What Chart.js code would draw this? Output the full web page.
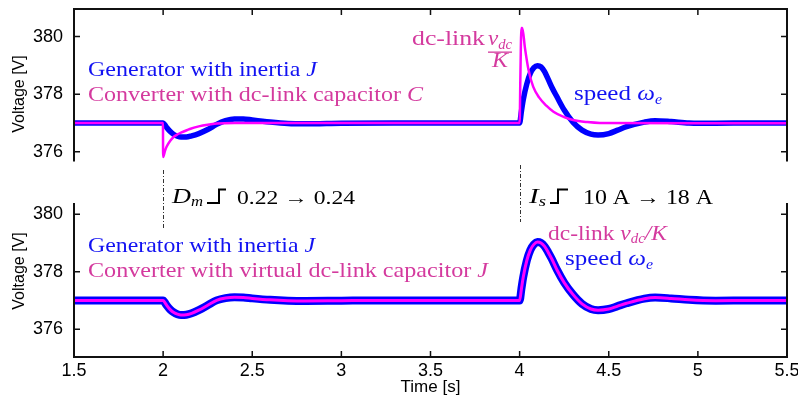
<!DOCTYPE html>
<html>
<head>
<meta charset="utf-8">
<script src="https://cdn.jsdelivr.net/npm/chart.js@4.4.0/dist/chart.umd.min.js"></script>
<style>
    html, body { margin: 0; padding: 0; background: #fff; }
    #wrap { position: relative; width: 798px; height: 398px; }
    #wrap canvas { position: absolute; left: 0; top: 0; }
</style>
</head>
<body>
<div id="wrap">
    <canvas id="chartBottom" width="798" height="398"></canvas>
    <canvas id="chartTop" width="798" height="398"></canvas>
</div>
<script>
// Axes
const xTicks = [1.5, 2, 2.5, 3, 3.5, 4, 4.5, 5, 5.5];
const yTicks = [376, 378, 380];

// Upper plot: generator speed (blue)
const tSpeedTop = [1.5, 2.0, 2.01, 2.02, 2.04, 2.06, 2.08, 2.1, 2.13, 2.16, 2.2, 2.25, 2.3, 2.35, 2.4, 2.45, 2.5, 2.6, 2.7, 2.8, 3.0, 3.3, 3.6,
    4.0, 4.01, 4.02, 4.04, 4.06, 4.08, 4.1, 4.12, 4.14, 4.16, 4.18, 4.21, 4.25, 4.3, 4.35, 4.4, 4.44, 4.5, 4.55, 4.6, 4.7, 4.76, 4.85, 4.95, 5.1, 5.3, 5.5];
const speedTop = [377.0, 377.0, 376.93, 376.84, 376.7, 376.6, 376.54, 376.51, 376.51, 376.55, 376.63, 376.77, 376.95, 377.08, 377.14, 377.14, 377.1, 377.03, 376.98, 376.97, 376.99, 377.0, 377.0,
    377.0, 377.4, 377.8, 378.35, 378.72, 378.92, 378.99, 378.95, 378.78, 378.52, 378.25, 377.9, 377.45, 377.02, 376.75, 376.61, 376.58, 376.63, 376.75, 376.87, 377.03, 377.08, 377.05, 377.0, 376.99, 377.0, 377.0];

// Upper plot: dc-link voltage / K (magenta)
const tDcTop = [1.5, 1.999, 2.0, 2.01, 2.02, 2.04, 2.06, 2.08, 2.1, 2.15, 2.2, 2.25, 2.3, 2.4, 3.0, 3.999,
    4.0, 4.004, 4.01, 4.015, 4.03, 4.05, 4.076, 4.11, 4.15, 4.19, 4.25, 4.3, 4.38, 4.45, 5.0, 5.5];
const dcTop = [377.0, 377.0, 375.82, 376.02, 376.18, 376.38, 376.52, 376.6, 376.66, 376.79, 376.88, 376.94, 376.98, 377.0, 377.0, 377.0,
    377.0, 378.5, 380.3, 380.3, 379.6, 378.84, 378.26, 377.88, 377.6, 377.39, 377.2, 377.1, 377.03, 377.0, 376.99, 376.99];

// Lower plot: speed and dc-link / K coincide
const tBottom = [1.5, 2.0, 2.01, 2.02, 2.04, 2.06, 2.08, 2.1, 2.13, 2.16, 2.2, 2.25, 2.3, 2.35, 2.4, 2.45, 2.5, 2.6, 2.7, 2.8, 3.0, 3.3, 3.6,
    4.0, 4.01, 4.02, 4.04, 4.06, 4.08, 4.1, 4.12, 4.14, 4.16, 4.18, 4.21, 4.25, 4.3, 4.35, 4.4, 4.44, 4.5, 4.55, 4.6, 4.7, 4.76, 4.85, 4.95, 5.1, 5.3, 5.5];
const speedBottom = [377.0, 377.0, 376.92, 376.83, 376.68, 376.58, 376.52, 376.49, 376.5, 376.55, 376.66, 376.83, 377.0, 377.08, 377.11, 377.1, 377.07, 377.02, 376.99, 376.98, 376.99, 377.0, 377.0,
    377.0, 377.4, 377.8, 378.38, 378.75, 378.95, 379.03, 379.0, 378.88, 378.68, 378.45, 378.06, 377.62, 377.2, 376.88, 376.7, 376.66, 376.7, 376.8, 376.9, 377.06, 377.1, 377.07, 377.02, 376.99, 377.0, 377.0];
const dcBottom = speedBottom; // drawn exactly on top of the speed curve

const BLUE = '#0000ff';
const MAGENTA = '#ff00ff';
const BLUE_TXT = '#1212f2';
const PINK_TXT = '#d43a9e';

Chart.defaults.font.family = "'Liberation Sans', Arial, sans-serif";
Chart.defaults.color = '#000';

function pts(t, v) {
    return t.map((x, i) => ({ x: x, y: v[i] }));
}

// text runs in serif, squeezed/stretched to the width seen in the figure
function rich(ctx, x, y, w, color, parts) {
    ctx.save();
    ctx.fillStyle = color;
    ctx.textAlign = 'left';
    ctx.textBaseline = 'alphabetic';
    const fonts = parts.map(p => (p[2] ? 'italic ' : '') + p[1] + 'px "Liberation Serif", "Times New Roman", serif');
    let nat = 0;
    parts.forEach((p, i) => { ctx.font = fonts[i]; nat += ctx.measureText(p[0]).width; });
    ctx.translate(x, y);
    ctx.scale(w ? w / nat : 1, 1);
    let cx = 0;
    parts.forEach((p, i) => {
        ctx.font = fonts[i];
        ctx.fillText(p[0], cx, p[3] || 0);
        cx += ctx.measureText(p[0]).width;
    });
    ctx.restore();
}

function yTitle(ctx, cy) {
    ctx.save();
    ctx.translate(19.5, cy);
    ctx.rotate(-Math.PI / 2);
    ctx.font = '16px "Liberation Sans", Arial, sans-serif';
    ctx.fillStyle = '#000';
    ctx.textAlign = 'center';
    ctx.textBaseline = 'middle';
    ctx.fillText('Voltage [V]', 0, 0);
    ctx.restore();
}

function step(ctx, x0, xm, x1, yb, yt) {
    ctx.save();
    ctx.strokeStyle = '#000';
    ctx.lineWidth = 2;
    ctx.beginPath();
    ctx.moveTo(x0, yb);
    ctx.lineTo(xm, yb);
    ctx.lineTo(xm, yt);
    ctx.lineTo(x1, yt);
    ctx.stroke();
    ctx.restore();
}

// MATLAB style box with inward ticks
function framePlugin(sides) {
    return {
        id: 'frame',
        afterDatasetsDraw(chart) {
            const { ctx, chartArea: a } = chart;
            const x = chart.scales.x, y = chart.scales.y;
            ctx.save();
            ctx.strokeStyle = '#111';
            ctx.lineWidth = 2;
            ctx.beginPath();
            if (sides.includes('left')) { ctx.moveTo(a.left, a.top); ctx.lineTo(a.left, a.bottom); }
            if (sides.includes('right')) { ctx.moveTo(a.right, a.top); ctx.lineTo(a.right, a.bottom); }
            if (sides.includes('top')) { ctx.moveTo(a.left - 1, a.top); ctx.lineTo(a.right + 1, a.top); }
            if (sides.includes('bottom')) { ctx.moveTo(a.left - 1, a.bottom); ctx.lineTo(a.right + 1, a.bottom); }
            ctx.stroke();
            ctx.lineWidth = 1.5;
            ctx.beginPath();
            const L = 6;
            yTicks.forEach(v => {
                const py = y.getPixelForValue(v);
                if (sides.includes('left')) { ctx.moveTo(a.left, py); ctx.lineTo(a.left + L, py); }
                if (sides.includes('right')) { ctx.moveTo(a.right, py); ctx.lineTo(a.right - L, py); }
            });
            xTicks.forEach(v => {
                const px = x.getPixelForValue(v);
                if (sides.includes('top')) { ctx.moveTo(px, a.top); ctx.lineTo(px, a.top + L); }
                if (sides.includes('bottom')) { ctx.moveTo(px, a.bottom); ctx.lineTo(px, a.bottom - L); }
            });
            ctx.stroke();
            ctx.restore();
        }
    };
}

function scalesFor(yMin, yMax, showX) {
    return {
        x: {
            type: 'linear',
            min: 1.5,
            max: 5.5,
            grid: { display: false, drawTicks: false },
            border: { display: false },
            afterBuildTicks: s => { s.ticks = xTicks.map(v => ({ value: v })); },
            ticks: { display: showX, padding: 3, font: { size: 18 }, maxRotation: 0, autoSkip: false, callback: v => String(v) },
            title: { display: showX, text: 'Time [s]', font: { size: 17 }, padding: 0 },
            afterFit: s => { s.height = showX ? 41 : 0; s.paddingLeft = 0; s.paddingRight = 0; }
        },
        y: {
            min: yMin,
            max: yMax,
            grid: { display: false, drawTicks: false },
            border: { display: false },
            afterBuildTicks: s => { s.ticks = yTicks.map(v => ({ value: v })); },
            ticks: { padding: 11, font: { size: 18 }, callback: v => String(v) },
            afterFit: s => { s.width = 74; s.paddingTop = 0; s.paddingBottom = 0; }
        }
    };
}

function lineSet(data, color, width, order) {
    return {
        data: data,
        borderColor: color,
        backgroundColor: color,
        borderWidth: width,
        pointRadius: 0,
        cubicInterpolationMode: 'monotone',
        borderJoinStyle: 'round',
        borderCapStyle: 'butt',
        clip: 0,
        order: order
    };
}

// --- 1. Upper plot: generator with inertia J vs converter with dc-link capacitor C ---
new Chart(document.getElementById('chartTop').getContext('2d'), {
    type: 'line',
    data: {
        datasets: [
            lineSet(pts(tSpeedTop, speedTop), BLUE, 5.5, 1),
            lineSet(pts(tDcTop, dcTop), MAGENTA, 2.5, 0)
        ]
    },
    options: {
        responsive: false,
        animation: false,
        layout: { padding: { left: 0, right: 11, top: 9, bottom: 236.5 } },
        plugins: { legend: { display: false }, tooltip: { enabled: false } },
        scales: scalesFor(375.66, 380.96, false)
    },
    plugins: [framePlugin(['left', 'top', 'right']), {
        id: 'notesTop',
        afterDraw(chart) {
            const ctx = chart.ctx;
            yTitle(ctx, 94);
            rich(ctx, 88, 76, 229, BLUE_TXT, [['Generator with inertia ', 22], ['J', 22, 1]]);
            rich(ctx, 88, 101, 335, PINK_TXT, [['Converter with dc-link capacitor ', 22], ['C', 22, 1]]);
            rich(ctx, 412, 45, 73, PINK_TXT, [['dc-link', 22]]);
            rich(ctx, 488, 45, 24, PINK_TXT, [['v', 22, 1], ['dc', 14, 1, 4]]);
            ctx.fillStyle = PINK_TXT;
            ctx.fillRect(488, 51.5, 24, 1.3);
            rich(ctx, 492, 67, 16, PINK_TXT, [['K', 21, 1]]);
            rich(ctx, 574, 100, 88, BLUE_TXT, [['speed ', 22], ['\u03c9', 22, 1], ['e', 14, 1, 4]]);
        }
    }]
});

// --- 2. Lower plot: generator with inertia J vs converter with virtual capacitor J ---
new Chart(document.getElementById('chartBottom').getContext('2d'), {
    type: 'line',
    data: {
        datasets: [
            lineSet(pts(tBottom, speedBottom), BLUE, 8, 1),
            lineSet(pts(tBottom, dcBottom), MAGENTA, 3, 0)
        ]
    },
    options: {
        responsive: false,
        animation: false,
        layout: { padding: { left: 0, right: 11, top: 203, bottom: 0 } },
        plugins: { legend: { display: false }, tooltip: { enabled: false } },
        scales: scalesFor(375.03, 380.39, true)
    },
    plugins: [framePlugin(['left', 'right', 'bottom']), {
        id: 'notesBottom',
        afterDraw(chart) {
            const ctx = chart.ctx;
            const x = chart.scales.x;
            yTitle(ctx, 271);

            // event markers between the two plots
            ctx.save();
            ctx.strokeStyle = '#333';
            ctx.lineWidth = 1;
            ctx.setLineDash([4, 2, 1, 2]);
            ctx.beginPath();
            const x2 = Math.round(x.getPixelForValue(2)) + 0.5;
            const x4 = Math.round(x.getPixelForValue(4)) + 0.5;
            ctx.moveTo(x2, 170); ctx.lineTo(x2, 228);
            ctx.moveTo(x4, 165); ctx.lineTo(x4, 222);
            ctx.stroke();
            ctx.restore();

            rich(ctx, 172, 203, 31, '#000', [['D', 22, 1], ['m', 14, 1, 3]]);
            step(ctx, 207, 219, 226, 203, 189.5);
            rich(ctx, 237, 204, 118, '#000', [['0.22 \u2192 0.24', 19]]);
            rich(ctx, 529, 203, 17, '#000', [['I', 22, 1], ['s', 14, 1, 3]]);
            step(ctx, 550, 558, 568, 203, 189.5);
            rich(ctx, 583, 204, 130, '#000', [['10 A \u2192 18 A', 20]]);

            rich(ctx, 88, 252, 227, BLUE_TXT, [['Generator with inertia ', 22], ['J', 22, 1]]);
            rich(ctx, 88, 277, 400, PINK_TXT, [['Converter with virtual dc-link capacitor ', 22], ['J', 22, 1]]);
            rich(ctx, 548, 240, 119, PINK_TXT, [['dc-link ', 22], ['v', 22, 1], ['dc', 14, 1, 3], ['/', 22, 1], ['K', 22, 1]]);
            rich(ctx, 565, 265, 88, BLUE_TXT, [['speed ', 22], ['\u03c9', 22, 1], ['e', 14, 1, 4]]);
        }
    }]
});
</script>
</body>
</html>
